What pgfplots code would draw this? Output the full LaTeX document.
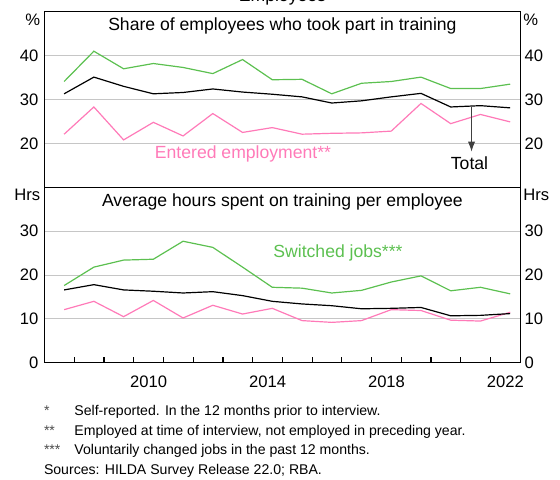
\documentclass[border=0pt]{standalone}
\usepackage{fontspec}
\setmainfont{Liberation Sans}
\usepackage{pgfplots}
\pgfplotsset{compat=1.18}
\usetikzlibrary{arrows.meta}
\definecolor{rbagreen}{HTML}{5CC050}
\definecolor{rbapink}{HTML}{FF7AB8}
\definecolor{gridgray}{HTML}{C6C6C6}
\newcommand{\tickfont}{\fontsize{8.3}{10}\selectfont}
\newcommand{\titlefont}{\fontsize{8.8}{10.5}\selectfont}
\newcommand{\notefont}{\fontsize{7.05}{8.5}\selectfont}

\pgfplotstableread{
x       total  entered switched
2007.66 31.3   22.1    34.1
2008.66 35.1   28.3    41.0
2009.66 33.0   20.8    37.0
2010.66 31.3   24.8    38.2
2011.66 31.6   21.7    37.3
2012.66 32.4   26.8    35.9
2013.66 31.7   22.5    39.1
2014.66 31.2   23.6    34.5
2015.66 30.6   22.1    34.6
2016.66 29.2   22.3    31.3
2017.66 29.7   22.4    33.7
2018.66 30.6   22.8    34.1
2019.66 31.4   29.1    35.1
2020.66 28.3   24.5    32.5
2021.66 28.6   26.6    32.5
2022.66 28.1   24.9    33.5
}\sharetable

\pgfplotstableread{
x       total  entered switched
2007.66 16.6   12.1    17.6
2008.66 17.8   14.0    21.8
2009.66 16.6   10.5    23.4
2010.66 16.3   14.2    23.6
2011.66 15.9   10.2    27.7
2012.66 16.2   13.1    26.3
2013.66 15.3   11.1    21.8
2014.66 14.0   12.4    17.2
2015.66 13.4    9.6    17.0
2016.66 13.0    9.2    15.9
2017.66 12.3    9.6    16.5
2018.66 12.4   12.1    18.4
2019.66 12.6   11.9    19.8
2020.66 10.7    9.7    16.4
2021.66 10.8    9.5    17.2
2022.66 11.2   11.5    15.7
}\hourstable

\pgfplotsset{
  panel/.style={
    scale only axis, width=237.9pt,
    xmin=2007, xmax=2023,
    axis line style={line width=0.6pt, black},
    tick label style={font=\tickfont},
    /pgf/number format/assume math mode=true,
    major tick length=0pt,
    hide obscured x ticks=false, hide obscured y ticks=false,
    every axis plot/.append style={line width=0.6pt, mark=none},
  },
  rightside/.style={
    panel, axis y line*=right, axis x line=none,
    yticklabel style={xshift=-1.4pt},
  },
}

\begin{document}
\begin{tikzpicture}
% ---------- top panel ----------
\begin{axis}[panel, at={(22.25pt,145.85pt)}, anchor=south west,
  height=87.8pt, ymin=10, ymax=50, ytick={20,30,40},
  xtick=\empty,
  ymajorgrids, grid style={gridgray, line width=0.5pt},
  yticklabel style={xshift=0.5pt}]
  \addplot[rbagreen] table[x=x, y=switched] {\sharetable};
  \addplot[rbapink] table[x=x, y=entered] {\sharetable};
  \addplot[black] table[x=x, y=total] {\sharetable};
  \draw[draw=black!75, line width=0.6pt, -{Latex[length=5pt,width=3.6pt]}]
    (axis cs:2021.36,28.4) -- (axis cs:2021.36,18.1);
\end{axis}
\begin{axis}[rightside, at={(22.25pt,145.85pt)}, anchor=south west,
  height=87.8pt, ymin=10, ymax=50, ytick={20,30,40}]
\end{axis}
% ---------- bottom panel ----------
\begin{axis}[panel, at={(22.25pt,58.15pt)}, anchor=south west,
  height=87.7pt, ymin=0, ymax=40, ytick={10,20,30},
  extra y ticks={0}, extra y tick labels={0},
  extra y tick style={grid=none},
  xtick={2010.5,2014.5,2018.5,2022.5},
  xticklabels={2010,2014,2018,2022},
  xticklabel style={yshift=-3.3pt},
  extra x ticks={2008,2009,...,2022},
  extra x tick labels={},
  extra x tick style={major tick length=3pt, tick align=inside,
    tick style={black, line width=0.6pt}, xtick pos=left},
  ymajorgrids, grid style={gridgray, line width=0.5pt},
  yticklabel style={xshift=0.5pt}]
  \addplot[rbagreen] table[x=x, y=switched] {\hourstable};
  \addplot[rbapink] table[x=x, y=entered] {\hourstable};
  \addplot[black] table[x=x, y=total] {\hourstable};
\end{axis}
\begin{axis}[rightside, at={(22.25pt,58.15pt)}, anchor=south west,
  height=87.7pt, ymin=0, ymax=40, ytick={10,20,30},
  extra y ticks={0}, extra y tick labels={0}]
\end{axis}
% ---------- text ----------
\node[anchor=base, font=\titlefont] at (141.2pt,238.75pt) {Employees};
\node[font=\titlefont] at (141.2pt,226.5pt) {Share of employees who took part in training};
\node[font=\titlefont] at (141.2pt,138.65pt) {Average hours spent on training per employee};
\node[font=\titlefont, text=rbapink] at (121.5pt,162.5pt) {Entered employment**};
\node[font=\titlefont, text=rbagreen] at (169pt,113.15pt) {Switched jobs***};
\node[font=\titlefont] at (234.75pt,157.75pt) {Total};
\node[anchor=east, inner sep=0pt, font=\tickfont] at (20.25pt,229.5pt) {\%};
\node[anchor=west, inner sep=0pt, font=\tickfont] at (261.5pt,229.5pt) {\%};
\node[anchor=east, inner sep=0pt, font=\tickfont] at (20.25pt,142pt) {Hrs};
\node[anchor=west, inner sep=0pt, font=\tickfont] at (261.5pt,142pt) {Hrs};
% footnotes
\begin{scope}[every node/.style={anchor=base west, inner sep=0pt, font=\notefont}]
  \node[text=black!70] at (21.8pt,31.65pt) {*};
  \node at (37pt,31.65pt) {Self-reported. In the 12 months prior to interview.};
  \node[text=black!70] at (21.8pt,21.9pt) {**};
  \node at (37pt,21.9pt) {Employed at time of interview, not employed in preceding year.};
  \node[text=black!70] at (21.8pt,12.15pt) {***};
  \node at (37pt,12.15pt) {Voluntarily changed jobs in the past 12 months.};
  \node at (21.8pt,2.4pt) {Sources: HILDA Survey Release 22.0; RBA.};
\end{scope}
\pgfresetboundingbox
\path[use as bounding box] (0,0) rectangle (280pt,239.5pt);
\end{tikzpicture}
\end{document}
